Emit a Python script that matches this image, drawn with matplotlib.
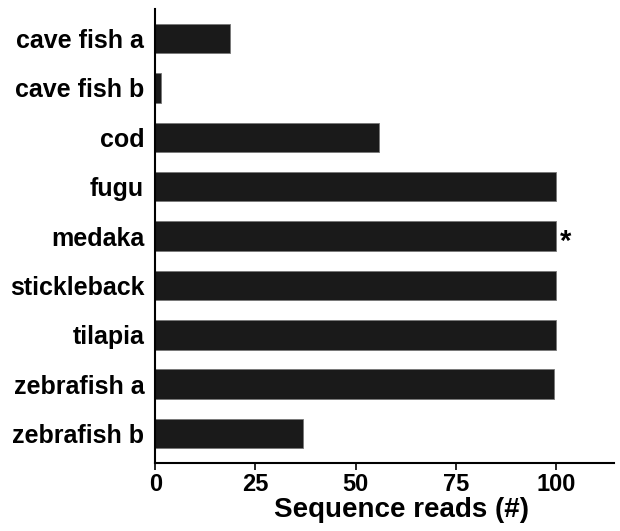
import matplotlib
matplotlib.use('Agg')
import matplotlib.pyplot as plt

# reads per species
species = ['cave fish a', 'cave fish b', 'cod', 'fugu', 'medaka',
           'stickleback', 'tilapia', 'zebrafish a', 'zebrafish b']
reads = [18.6, 1.4, 55.8, 100, 100, 100, 100, 99.6, 36.9]
xticks = [0, 25, 50, 75, 100]
starred = 'medaka'

plt.rcParams['font.family'] = ['Liberation Sans', 'DejaVu Sans']
plt.rcParams['font.weight'] = 'bold'

fig = plt.figure(figsize=(6.2, 5.31), dpi=100)
ax = fig.add_axes([0.2505, 0.128, 0.7395, 0.855])

pos = list(range(len(species)))
ax.barh(pos, reads, height=0.6, color='#1a1a1a', edgecolor='#777777', linewidth=0.6)

# mark the starred species next to its bar (asterisk glyph sits high, nudge down)
i = species.index(starred)
ax.text(reads[i] + 1.0, pos[i] + 0.12, '*', fontsize=21, fontweight='bold',
        va='center', ha='left')

ax.set_xlim(0, 114.5)
ax.set_ylim(len(species) - 0.4, -0.6)
ax.set_yticks(pos)
ax.set_yticklabels(species, fontsize=18, fontweight='bold')
ax.set_xticks(xticks)
ax.set_xticklabels([str(t) for t in xticks], fontsize=17, fontweight='bold')
ax.set_xlabel('Sequence reads (#)', fontsize=20, fontweight='bold',
              labelpad=1, x=0.538)

for s in ['top', 'right']:
    ax.spines[s].set_visible(False)
for s in ['left', 'bottom']:
    ax.spines[s].set_linewidth(1.5)
ax.tick_params(axis='x', length=5, width=1.2, pad=2)
ax.tick_params(axis='y', length=0, pad=8)

fig.savefig('out.png', dpi=100)
